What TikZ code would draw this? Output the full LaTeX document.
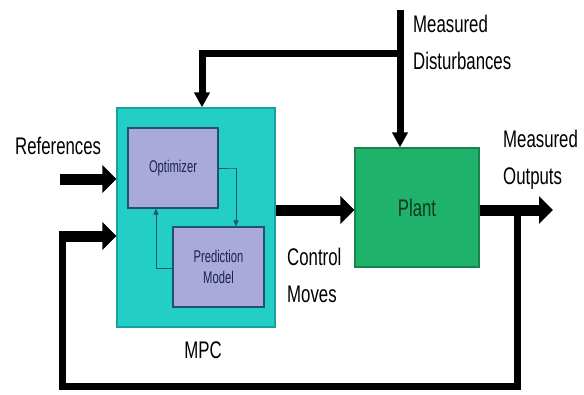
\documentclass[tikz,border=0pt]{standalone}
\usepackage{fontspec}
\setmainfont{Liberation Sans}
\newfontfamily\bigf[FakeStretch=0.7]{Liberation Sans}
\newfontfamily\smallf[FakeStretch=0.66]{Liberation Sans}
\usetikzlibrary{arrows.meta}
\definecolor{mpcfill}{HTML}{23CEC6}
\definecolor{mpcdraw}{HTML}{17A39C}
\definecolor{subfill}{HTML}{A9A9DB}
\definecolor{subdraw}{HTML}{22506E}
\definecolor{plantfill}{HTML}{1EB26A}
\definecolor{plantdraw}{HTML}{17834F}
\definecolor{subtext}{HTML}{1C2350}
\definecolor{planttext}{HTML}{103A20}
\definecolor{innerline}{HTML}{1A5A6A}
\begin{document}
\begin{tikzpicture}[x=1pt,y=-1pt,
  blockbox/.style={rectangle,inner sep=0pt,line width=1.2pt},
  subbox/.style={blockbox,fill=subfill,draw=subdraw,text=subtext,font=\smallf\fontsize{17}{21}\selectfont,align=center},
  lbl/.style={inner sep=0pt,anchor=north west,align=left,font=\bigf\fontsize{24}{37}\selectfont},
  thickarrow/.style={line width=11pt,-{Triangle[length=14pt,width=27pt]}},
  thinarrow/.style={line width=7pt,-{Triangle[length=15pt,width=15pt]}},
  innerarrow/.style={line width=1pt,draw=innerline,-{Triangle[length=6pt,width=5pt]}}]
\useasboundingbox (0,0) rectangle (584,394);
\fill[white] (0,0) rectangle (584,394);
% blocks
\node[blockbox,fill=mpcfill,draw=mpcdraw,minimum width=158pt,minimum height=219pt] (mpc) at (196,217.5) {};
\node[subbox,minimum width=90pt,minimum height=80pt] (opt) at (173,168) {Optimizer};
\node[subbox,minimum width=91pt,minimum height=80pt] (pm) at (218.5,267) {Prediction\\Model};
\node[blockbox,fill=plantfill,draw=plantdraw,minimum width=124pt,minimum height=119pt,text=planttext,font=\bigf\fontsize{24}{28}\selectfont] (plant) at (417,207.5) {Plant};
% coordinates
\coordinate (refin) at (60,179);
\coordinate (dtop) at (400,10);
\coordinate (dbranch) at (400,53);
\coordinate (dleft) at (202,53);
\coordinate (yout) at (0,210);
\coordinate (outend) at (553,210);
\coordinate (fbtap) at (517,210);
\coordinate (fbbr) at (517,386);
\coordinate (fbbl) at (62,386);
\coordinate (fbin) at (58.5,236);
% inner connectors
\draw[innerarrow] (opt.east) -- ++(18,0) -| (pm.north -| 236,0);
\draw[innerarrow] (pm.west |- 0,268) -- (156,268) -- (opt.south -| 156,0);
% main connectors
\draw[thickarrow] (refin) -- (refin -| mpc.west);
\draw[thickarrow] (mpc.east |- yout) -- (plant.west |- yout);
\draw[thickarrow] (plant.east |- yout) -- (outend);
\draw[line width=7pt] (fbtap) -- (fbbr) -- (fbbl) -- (fbbl |- fbin);
\draw[thickarrow] (fbin) -- (fbin -| mpc.west);
\draw[thinarrow] (dtop) -- (dtop |- plant.north);
\draw[line width=7pt,-{Triangle[length=15pt,width=15pt]}] ([xshift=3.5pt]dbranch) -- (dleft) -- (dleft |- mpc.north);
% labels
\node[lbl] (lref) at (15,137) {References};
\node[lbl,anchor=north] (lmpc) at (203,342) {MPC};
\node[lbl] (ldist) at (413,15) {Measured\\Disturbances};
\node[lbl] (lout) at (503,130) {Measured\\Outputs};
\node[lbl] (lctl) at (287,248) {Control\\Moves};
\end{tikzpicture}
\end{document}
